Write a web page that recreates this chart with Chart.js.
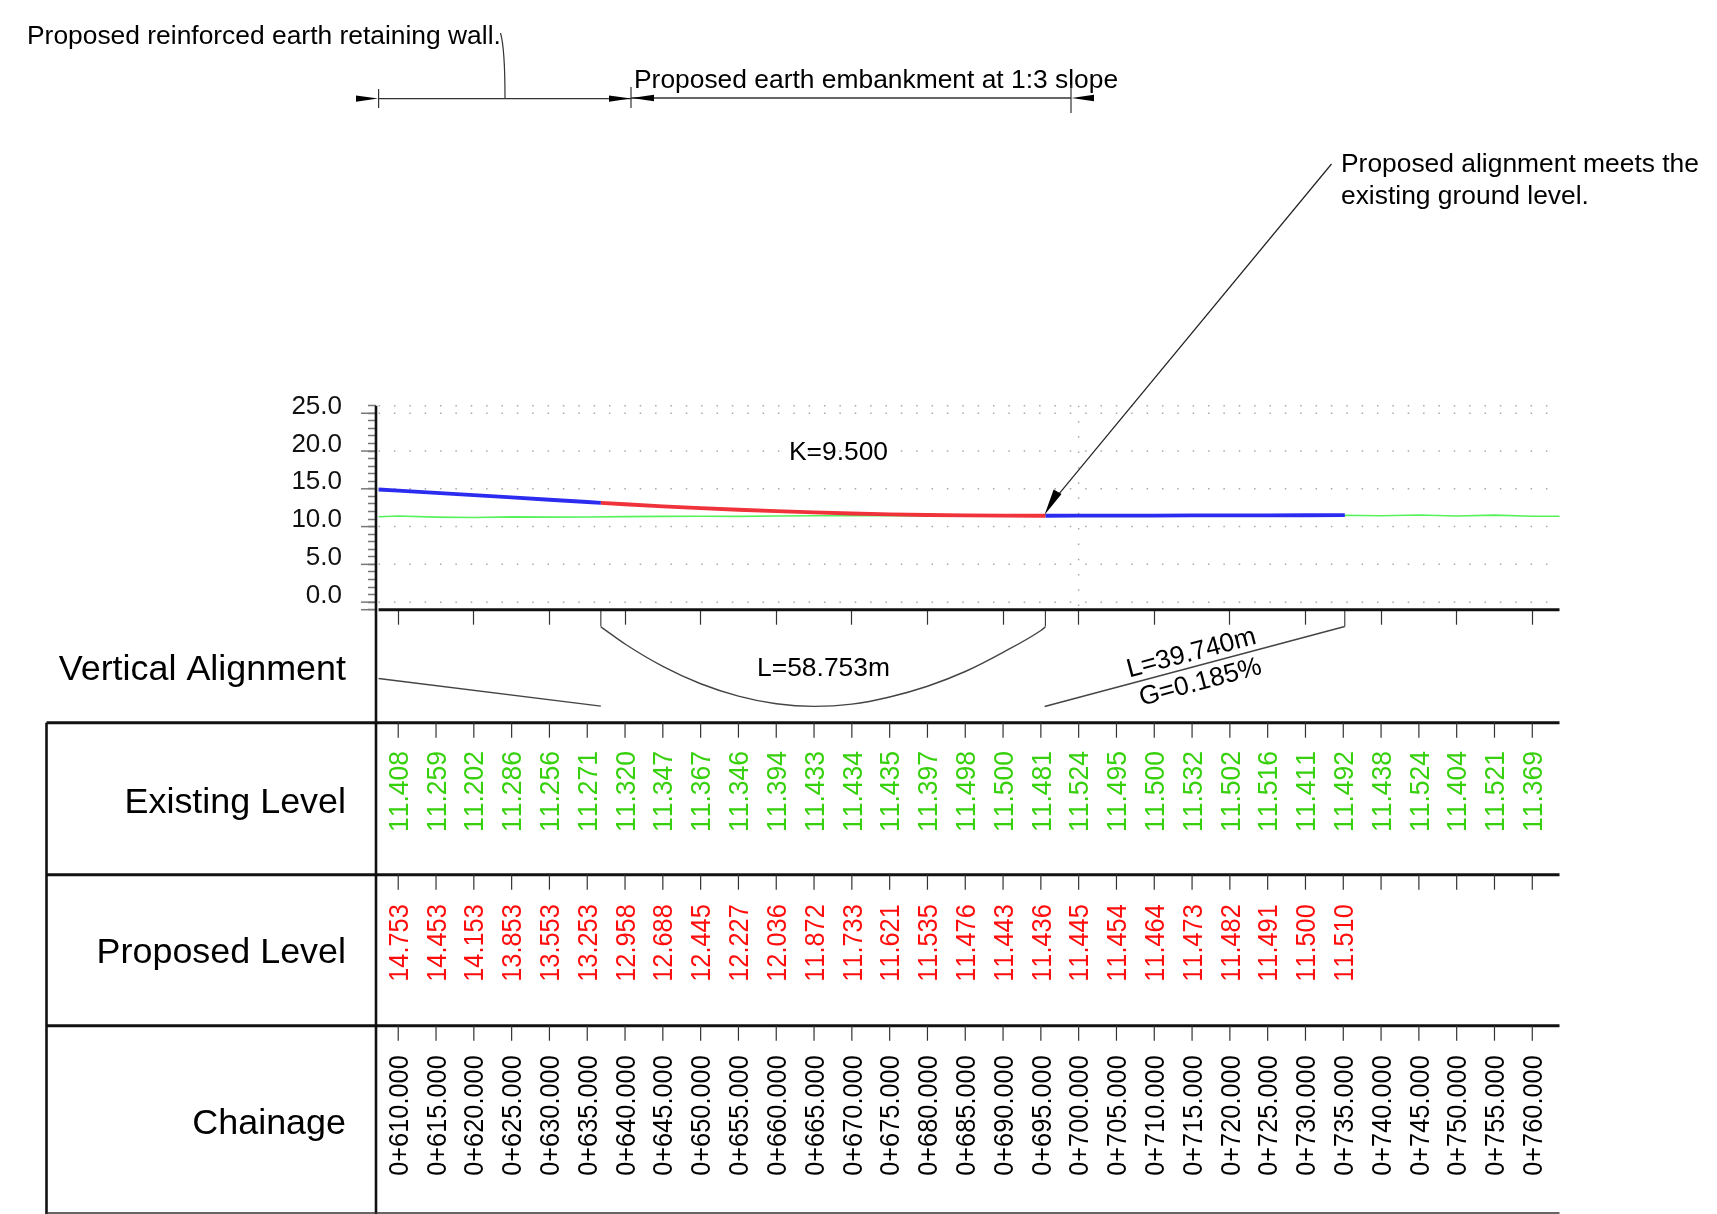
<!DOCTYPE html>
<html>
<head>
<meta charset="utf-8">
<style>
  html, body { margin: 0; padding: 0; background: #fff; }
  canvas { display: block; }
</style>
<script src="https://cdn.jsdelivr.net/npm/chart.js@4/dist/chart.umd.min.js"></script>
</head>
<body>
<canvas id="profile" width="1717" height="1214"></canvas>
<script>
// chainage stations, metres past km 0
const chainages = [610, 615, 620, 625, 630, 635, 640, 645, 650, 655, 660, 665, 670, 675, 680, 685,
  690, 695, 700, 705, 710, 715, 720, 725, 730, 735, 740, 745, 750, 755, 760];
const existingLevels = [11.408, 11.259, 11.202, 11.286, 11.256, 11.271, 11.320, 11.347, 11.367, 11.346, 11.394,
  11.433, 11.434, 11.435, 11.397, 11.498, 11.500, 11.481, 11.524, 11.495, 11.500, 11.532, 11.502, 11.516,
  11.411, 11.492, 11.438, 11.524, 11.404, 11.521, 11.369];
const proposedLevels = [14.753, 14.453, 14.153, 13.853, 13.553, 13.253, 12.958, 12.688, 12.445, 12.227, 12.036,
  11.872, 11.733, 11.621, 11.535, 11.476, 11.443, 11.436, 11.445, 11.454, 11.464, 11.473, 11.482, 11.491,
  11.500, 11.510];

// the proposed line: straight, curve, straight
const tangentInX = [607.4, 610, 615, 620, 625, 630, 635, 636.8];
const tangentInY = [14.91, 14.753, 14.453, 14.153, 13.853, 13.553, 13.253, 13.14];
const curveX = [636.8, 640, 645, 650, 655, 660, 665, 670, 675, 680, 685, 690, 695, 695.6];
const curveY = [13.14, 12.958, 12.688, 12.445, 12.227, 12.036, 11.872, 11.733, 11.621, 11.535, 11.476, 11.443, 11.436, 11.436];
const tangentOutX = [695.6, 700, 705, 710, 715, 720, 725, 730, 735, 735.2];
const tangentOutY = [11.436, 11.445, 11.454, 11.464, 11.473, 11.482, 11.491, 11.500, 11.510, 11.51];
const groundX = [607.4].concat(chainages, [763.6]);
const groundY = [11.30].concat(existingLevels, [11.37]);

// vertical alignment strip, plotted below the level axis
const stripInX = [607.4, 636.8];
const stripInY = [-10.1, -13.76];
const stripCurveX = [636.8, 640, 645, 650, 655, 660, 665, 670, 675, 680, 685, 690, 695, 695.6];
const stripCurveY = [-3.27, -5.54, -8.5, -10.8, -12.43, -13.45, -13.8, -13.5, -12.55, -11.13, -9.18, -6.64, -3.75, -3.27];
const stripOutX = [695.5, 735.2];
const stripOutY = [-13.81, -3.22];
const stripStops = [636.8, 695.6, 735.2];

// y axis and dotted grid
const levelMin = -1;
const levelMax = 26;
const levelLabels = [0, 5, 10, 15, 20, 25];
const dotRows = [0, 5, 10, 15, 20, 25, 26];
const dotColumn = 700;

const FONT = '"Liberation Sans", Arial, sans-serif';
const GREEN_TEXT = '#36d00c';
const RED_TEXT = '#ff0d0d';

function points(xs, ys) {
  return xs.map((x, i) => ({ x: x, y: ys[i] }));
}

function lineSet(xs, ys, color, width, order, extra) {
  return Object.assign({
    data: points(xs, ys), borderColor: color, borderWidth: width, pointRadius: 0,
    clip: false, order: order, tension: 0, borderCapStyle: 'butt'
  }, extra || {});
}

const datasets = [];
// dots first
dotRows.forEach(r => {
  datasets.push(lineSet([607.4, 762], [r, r], '#a8a8a8', 1.5, 20, { borderDash: [1.5, 13.86] }));
});
datasets.push(lineSet([dotColumn, dotColumn], [levelMax, levelMin], '#a8a8a8', 1.5, 20, { borderDash: [1.5, 13.8] }));
datasets.push(lineSet(groundX, groundY, '#55f25a', 1.6, 10));
datasets.push(lineSet(tangentInX, tangentInY, '#2c2cf0', 3.8, 5));
datasets.push(lineSet(curveX, curveY, '#f0323a', 3.8, 5));
datasets.push(lineSet(tangentOutX, tangentOutY, '#2c2cf0', 3.8, 5));
datasets.push(lineSet(stripInX, stripInY, '#444', 1.4, 6));
datasets.push(lineSet(stripCurveX, stripCurveY, '#444', 1.4, 6, { cubicInterpolationMode: 'monotone' }));
datasets.push(lineSet(stripOutX, stripOutY, '#444', 1.4, 6));
stripStops.forEach(c => {
  datasets.push(lineSet([c, c], [levelMin, -3.22], '#333', 1.1, 6));
});

function text(ctx, str, x, y, size, opts) {
  opts = opts || {};
  ctx.save();
  ctx.translate(x, y);
  if (opts.angle) ctx.rotate(opts.angle);
  if (opts.squeeze) ctx.scale(opts.squeeze, 1);
  ctx.font = size + 'px ' + FONT;
  if (opts.noKern) ctx.fontKerning = 'none';
  ctx.fillStyle = opts.color || '#000';
  ctx.textAlign = opts.align || 'left';
  ctx.textBaseline = opts.baseline || 'alphabetic';
  ctx.fillText(str, 0, 0);
  ctx.restore();
}

function seg(ctx, x1, y1, x2, y2, width, color) {
  ctx.beginPath();
  ctx.moveTo(x1, y1);
  ctx.lineTo(x2, y2);
  ctx.lineWidth = width;
  ctx.strokeStyle = color;
  ctx.stroke();
}

function arrow(ctx, tipX, tipY, tailX, tailY, half) {
  const a = Math.atan2(tailY - tipY, tailX - tipX);
  ctx.beginPath();
  ctx.moveTo(tipX, tipY);
  ctx.lineTo(tailX + Math.sin(a) * half, tailY - Math.cos(a) * half);
  ctx.lineTo(tailX - Math.sin(a) * half, tailY + Math.cos(a) * half);
  ctx.closePath();
  ctx.fillStyle = '#000';
  ctx.fill();
}

// table under the plot and the notes above it
const sheet = {
  id: 'sheet',
  afterDraw(chart) {
    const ctx = chart.ctx;
    const xs = chart.scales.x;
    const ys = chart.scales.y;
    const axisX = chart.chartArea.left;
    const right = chart.chartArea.right;
    const base = ys.getPixelForValue(levelMin);

    // long ticks on the level axis
    for (let v = levelMin; v <= 25; v++) {
      if (v === levelMin || v % 5 === 0) {
        seg(ctx, axisX - 15, ys.getPixelForValue(v), axisX, ys.getPixelForValue(v), 1.5, '#777');
      }
    }
    seg(ctx, axisX, chart.chartArea.top, axisX, 1214, 2.6, '#111');
    seg(ctx, xs.getPixelForValue(607.4), base, right, base, 3, '#111');

    // row rules
    [722.7, 874.7, 1025.7].forEach(y => {
      seg(ctx, 46.5, y, right, y, 3, '#111');
      chainages.forEach(c => {
        const px = xs.getPixelForValue(c);
        seg(ctx, px, y, px, y + 15, 1.2, '#333');
      });
    });
    seg(ctx, 46.5, 722.7, 46.5, 1214, 2.6, '#111');
    seg(ctx, 46.5, 1213, right, 1213, 1.6, '#333');

    // row names
    text(ctx, 'Vertical Alignment', 346, 680, 35.9, { align: 'right' });
    text(ctx, 'Existing Level', 346, 813, 35.9, { align: 'right' });
    text(ctx, 'Proposed Level', 346, 963, 35.9, { align: 'right' });
    text(ctx, 'Chainage', 346, 1134, 35.9, { align: 'right' });

    // row values
    const up = { angle: -Math.PI / 2, squeeze: 0.89, align: 'center', baseline: 'middle', noKern: true };
    chainages.forEach((c, i) => {
      const px = xs.getPixelForValue(c) + 1.8;
      text(ctx, existingLevels[i].toFixed(3), px, 791.5, 28.5, Object.assign({ color: GREEN_TEXT }, up, { squeeze: 0.93 }));
      if (i < proposedLevels.length) {
        text(ctx, proposedLevels[i].toFixed(3), px, 943, 28.5, Object.assign({ color: RED_TEXT }, up));
      }
      text(ctx, '0+' + c + '.000', px, 1115.5, 28.5, up);
    });

    // strip notes
    text(ctx, 'L=58.753m', 823.5, 675.5, 26.4, { align: 'center' });
    text(ctx, 'K=9.500', 838.5, 460, 26.4, { align: 'center' });
    const tilt = -14.9 * Math.PI / 180;
    text(ctx, 'L=39.740m', 1191.5, 653.5, 26.4, { angle: tilt, align: 'center', baseline: 'middle' });
    text(ctx, 'G=0.185%', 1200.5, 682.5, 26.4, { angle: tilt, align: 'center', baseline: 'middle' });

    // dimension notes at the top
    text(ctx, 'Proposed reinforced earth retaining wall.', 27, 44, 26.4);
    text(ctx, 'Proposed earth embankment at 1:3 slope', 634, 88, 26.4);
    seg(ctx, 378.6, 98.6, 631, 98.6, 1.4, '#333');
    seg(ctx, 631, 98, 1071, 98, 1.4, '#333');
    seg(ctx, 378.6, 89, 378.6, 108, 1.2, '#333');
    seg(ctx, 631, 87, 631, 108, 1.2, '#333');
    seg(ctx, 1071, 85, 1071, 113, 1.2, '#333');
    arrow(ctx, 378, 98.6, 356, 98.6, 3.2);
    arrow(ctx, 631, 98.6, 609, 98.6, 3.2);
    arrow(ctx, 631.5, 98, 654, 98, 3.2);
    arrow(ctx, 1071.5, 98, 1094, 98, 3.2);
    ctx.beginPath();
    ctx.moveTo(505, 98);
    ctx.bezierCurveTo(505, 70, 504, 45, 500.5, 33);
    ctx.lineWidth = 1.2;
    ctx.strokeStyle = '#333';
    ctx.stroke();

    // note for the end of the curve
    text(ctx, 'Proposed alignment meets the', 1341, 172, 26.4);
    text(ctx, 'existing ground level.', 1341, 204, 26.4);
    const tipX = xs.getPixelForValue(695.6) - 0.8;
    const tipY = ys.getPixelForValue(11.436) - 1;
    seg(ctx, 1331.5, 164, tipX + 8, tipY - 13, 1.2, '#222');
    arrow(ctx, tipX, tipY, tipX + 13, tipY - 23, 4.5);
  }
};

new Chart(document.getElementById('profile'), {
  type: 'line',
  data: { datasets: datasets },
  plugins: [sheet],
  options: {
    responsive: false,
    animation: false,
    devicePixelRatio: 1,
    events: [],
    layout: { padding: { left: 0, top: 405.7, right: 157.5, bottom: 589.3 } },
    plugins: { legend: { display: false }, tooltip: { enabled: false }, title: { display: false } },
    scales: {
      x: {
        type: 'linear',
        min: 607.06,
        max: 763.6,
        afterFit(scale) { scale.height = 15; },
        border: { display: false },
        grid: { drawOnChartArea: false, drawTicks: true, tickLength: 15, tickColor: '#333', tickWidth: 1.2 },
        ticks: { stepSize: 10, includeBounds: false, display: false, autoSkip: false }
      },
      y: {
        min: levelMin,
        max: levelMax,
        afterFit(scale) { scale.width = 376; },
        border: { display: false },
        grid: { drawOnChartArea: false, drawTicks: true, tickLength: 8, tickColor: '#777', tickWidth: 1.5 },
        ticks: {
          stepSize: 1,
          autoSkip: false,
          padding: 26,
          labelOffset: -6.5,
          color: '#111',
          font: { family: FONT, size: 26 },
          callback(v) { return levelLabels.includes(v) ? v.toFixed(1) : ''; }
        }
      }
    }
  }
});
</script>
</body>
</html>
